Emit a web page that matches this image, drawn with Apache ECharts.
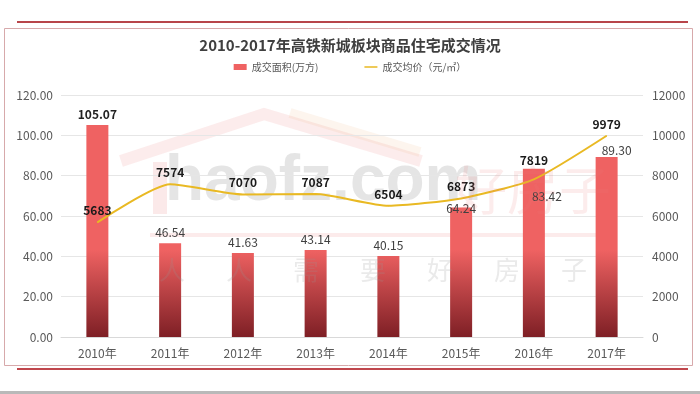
<!DOCTYPE html>
<html><head><meta charset="utf-8">
<script src="https://cdn.jsdelivr.net/npm/echarts@6/dist/echarts.min.js"></script>
<style>html,body{margin:0;padding:0;background:#fff}#c{width:700px;height:394px}</style>
</head><body><div id="c"></div>
<script>
const categories = ['2010年','2011年','2012年','2013年','2014年','2015年','2016年','2017年'];
const areaValues = [105.07, 46.54, 41.63, 43.14, 40.15, 64.24, 83.42, 89.30];
const priceValues = [5683, 7574, 7070, 7087, 6504, 6873, 7819, 9979];
const leftTicks = {min: 0, max: 120, interval: 20};
const rightTicks = {min: 0, max: 12000, interval: 2000};
const titleText = '2010-2017年高铁新城板块商品住宅成交情况';
const seriesNames = ['成交面积(万方)', '成交均价（元/㎡）'];
const watermarkChars = ['人', '人', '需', '要', '好', '房', '子'];

const FONT = '"Noto Sans CJK SC", "Noto Sans", sans-serif';
const barLabelStyle = {
  0: {fontWeight: 'bold', color: '#222'},
  5: {offset: [0, 12]},
  6: {offset: [13, 39]},
  7: {offset: [10, 5]}
};
const lineLabelStyle = {6: {offset: [0, -7]}};

const chart = echarts.init(document.getElementById('c'), null, {renderer: 'canvas'});
const barGrad = new echarts.graphic.LinearGradient(0, 250, 0, 337, [
  {offset: 0, color: '#ef6262'},
  {offset: 1, color: '#7e1f25'}
], true);

const WZ = 50;
const wmChars = watermarkChars.map((ch, i) => ({
  type: 'text', z: WZ, x: 172 + i * 67, y: 270,
  style: {text: ch, font: '26px "Noto Sans CJK SC"', fill: 'rgba(150,150,150,0.2)', align: 'center', verticalAlign: 'middle'},
  silent: true
}));

chart.setOption({
  animation: false,
  backgroundColor: '#fff',
  textStyle: {fontFamily: FONT},
  title: {text: titleText, left: 'center', top: 33,
    textStyle: {fontSize: 15, fontWeight: 'bold', color: '#3f3f3f', fontFamily: FONT}},
  legend: {top: 57, left: 'center', itemGap: 46, itemWidth: 13, itemHeight: 6,
    textStyle: {fontSize: 10, color: '#595959'},
    data: [{name: seriesNames[0], icon: 'rect'},
      {name: seriesNames[1], icon: 'path://M0,0L0.01,0L0.01,0.01ZM0,2.2L13,2.2L13,3.8L0,3.8ZM0,6L0.01,6L0.01,5.99Z'}]},
  grid: {left: 61, right: 57, top: 95, bottom: 57},
  xAxis: {type: 'category', data: categories,
    axisLine: {lineStyle: {color: '#d9d9d9'}}, axisTick: {show: false},
    axisLabel: {color: '#595959', fontSize: 12, margin: 10}},
  yAxis: [
    {type: 'value', min: leftTicks.min, max: leftTicks.max, interval: leftTicks.interval,
      axisLabel: {color: '#595959', fontSize: 12, margin: 8, formatter: v => v.toFixed(2)},
      splitLine: {lineStyle: {color: '#e6e6e6'}}, axisLine: {show: false}, axisTick: {show: false}},
    {type: 'value', min: rightTicks.min, max: rightTicks.max, interval: rightTicks.interval,
      axisLabel: {color: '#595959', fontSize: 12, margin: 9, formatter: v => String(v)},
      splitLine: {show: false}, axisLine: {show: false}, axisTick: {show: false}}
  ],
  graphic: [
    {type: 'line', shape: {x1: 17, y1: 22, x2: 688, y2: 22}, style: {stroke: '#b8454a', lineWidth: 2}, silent: true},
    {type: 'rect', shape: {x: 4.5, y: 28.5, width: 688, height: 337}, style: {fill: 'none', stroke: '#d7a9ab', lineWidth: 1}, silent: true},
    {type: 'line', shape: {x1: 17, y1: 369, x2: 688, y2: 369}, style: {stroke: '#c0464c', lineWidth: 2}, silent: true},
    {type: 'rect', shape: {x: 0, y: 391, width: 700, height: 3}, style: {fill: '#b9b9b9'}, silent: true},
    {type: 'polyline', z: -1, shape: {points: [[121, 161], [264, 114], [421, 161]]},
      style: {stroke: 'rgba(230,110,110,0.13)', lineWidth: 12, fill: 'none'}, silent: true},
    {type: 'polyline', z: -1, shape: {points: [[290, 113], [420, 152]]},
      style: {stroke: 'rgba(240,180,120,0.13)', lineWidth: 10, fill: 'none'}, silent: true},
    {type: 'rect', z: -1, shape: {x: 153, y: 162, width: 14, height: 52}, style: {fill: 'rgba(230,110,110,0.15)'}, silent: true},
    {type: 'text', z: -1, left: 165, top: 150, style: {text: 'haofz.com', font: 'bold 64px "Liberation Sans", Arial, sans-serif', fill: 'rgba(160,160,160,0.27)'}, silent: true},
    {type: 'text', z: WZ, left: 455, top: 164, style: {text: '好房子', font: '52px "Noto Sans CJK SC"', fill: 'rgba(235,120,120,0.14)'}, silent: true},
    {type: 'rect', z: -1, shape: {x: 150, y: 233, width: 446, height: 4}, style: {fill: 'rgba(235,120,120,0.15)'}, silent: true}
  ].concat(wmChars),
  series: [
    {name: seriesNames[0], type: 'bar', yAxisIndex: 0, barWidth: 22,
      itemStyle: {color: barGrad},
      data: areaValues.map((v, i) => ({value: v, label: barLabelStyle[i] || {}})),
      label: {show: true, position: 'top', distance: 5, fontSize: 12, color: '#404040',
        formatter: p => p.value.toFixed(2)}},
    {name: seriesNames[1], type: 'line', yAxisIndex: 1, smooth: 0.2, symbol: 'circle', symbolSize: 1, showSymbol: true,
      lineStyle: {color: '#e9b923', width: 2}, itemStyle: {color: '#e9b923'},
      data: priceValues.map((v, i) => ({value: v, label: lineLabelStyle[i] || {}})),
      label: {show: true, position: 'top', distance: 5, fontSize: 12, fontWeight: 'bold', color: '#1a1a1a'}}
  ]
});
</script></body></html>
